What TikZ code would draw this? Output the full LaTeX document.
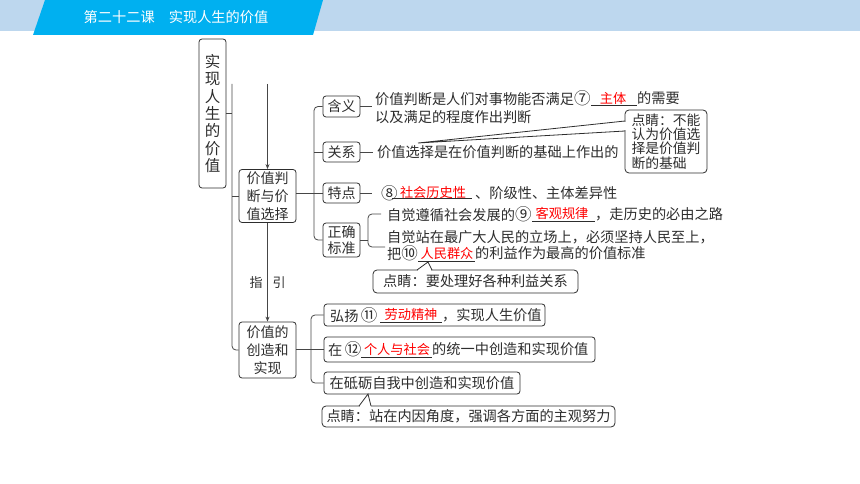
\documentclass[tikz,border=0pt]{standalone}
\usepackage{fontspec}
\setmainfont{Noto Sans CJK SC}
\newcommand{\cnum}[1]{{\fontsize{16.5}{17}\selectfont #1}}
\usetikzlibrary{arrows.meta}
\definecolor{bandlight}{RGB}{189,215,238}
\definecolor{bandcyan}{RGB}{0,176,240}
\definecolor{ink}{RGB}{45,45,45}
\definecolor{lineg}{RGB}{70,70,70}
\definecolor{ansred}{RGB}{255,0,0}
\begin{document}
\begin{tikzpicture}[x=1pt,y=-1pt,
  box/.style={draw=ink, rounded corners=3pt, line width=0.8pt, inner sep=0pt, text=ink, align=center, font=\fontsize{14}{18}\selectfont},
  txt/.style={anchor=west, inner sep=0pt, text=ink, font=\fontsize{14.2}{17}\selectfont},
  ans/.style={inner sep=0pt, text=ansred, font=\fontsize{13.2}{16}\selectfont},
  uline/.style={draw=ink, line width=0.6pt},
  conn/.style={draw=lineg, line width=0.8pt},
  wedge/.style={draw=ink, line width=0.8pt},
  arr/.style={-{Stealth[length=5pt,width=4pt]}},
  lbl/.style={inner sep=0pt, text=ink, font=\fontsize{13}{15}\selectfont},
  notebox/.style={draw=ink, rounded corners=4pt, line width=0.8pt, fill=white, inner sep=0pt, text=ink, font=\fontsize{14.2}{14.5}\selectfont},
]
\useasboundingbox (0,0) rectangle (860,484);
% header
\fill[bandlight] (0,0) rectangle (860,31);
\fill[bandcyan] (45,0) -- (323,0) -- (313,35) -- (33,35) -- cycle;
\node[inner sep=0pt, text=white, font=\fontsize{14.2}{16}\selectfont] (title) at (176,17) {第二十二课　实现人生的价值};

% main box and level-2 boxes
\node[box, minimum width=27pt, minimum height=149pt, font=\fontsize{15.5}{17.3}\selectfont] (mainbox) at (212.5,113.5) {实\\现\\人\\生\\的\\价\\值};
\node[box, minimum width=57pt, minimum height=53pt] (box2) at (267.5,196) {价值判\\断与价\\值选择};
\node[box, minimum width=57pt, minimum height=56pt] (box3) at (267.5,350) {价值的\\创造和\\实现};

\coordinate (ltop) at (232,84);
\coordinate (atop) at (267.5,84);
\draw[conn, rounded corners=4pt] (ltop) |- (box3.west);
\draw[conn] (mainbox.east) -- (mainbox.east -| ltop);
\draw[conn] (box2.west -| ltop) -- (box2.west);
\draw[conn, arr] (atop) -- (box2.north);
\draw[conn, arr] (box2.south) -- (box3.north);
\node[lbl] (zhi) at (256,283) {指};
\node[lbl] (yin) at (279,283) {引};

% level-3 boxes (upper)
\node[box, minimum width=37pt, minimum height=21pt] (hanyi) at (341.5,106.5) {含义};
\node[box, minimum width=37pt, minimum height=20pt] (guanxi) at (341.5,152) {关系};
\node[box, minimum width=37pt, minimum height=20pt] (tedian) at (341.5,193) {特点};
\node[box, minimum width=37pt, minimum height=34pt, font=\fontsize{14}{16}\selectfont] (zhengque) at (341.5,240) {正确\\标准};

\coordinate (brk1) at (314,150);
\draw[conn] (box2.east |- tedian.west) -- (tedian.west);
\draw[conn, rounded corners=4pt] (hanyi.west) -| (brk1) |- (zhengque.west);
\draw[conn] (guanxi.west -| brk1) -- (guanxi.west);

% 含义
\node[txt] (t1a) at (375,98) {价值判断是人们对事物能否满足\cnum{⑦}};
\draw[uline] (591,105) -- (637,105);
\node[ans] (t1b) at (613,98) {主体};
\node[txt] (t1c) at (637,98) {的需要};
\node[txt] (t2) at (375,117) {以及满足的程度作出判断};
\coordinate (h1) at (372,106.5);
\draw[conn] (hanyi.east) -- (h1);

% 关系
\node[txt] (t3) at (377,152) {价值选择是在价值判断的基础上作出的};
\coordinate (h2) at (373,152);
\draw[conn] (guanxi.east) -- (h2);

% 特点
\node[txt] (t4a) at (381,193) {\cnum{⑧}};
\draw[uline] (392,198) -- (472,198);
\node[ans] (t4b) at (433,192) {社会历史性};
\node[txt] (t4c) at (475,193) {、阶级性、主体差异性};
\coordinate (h3) at (372,193);
\draw[conn] (tedian.east) -- (h3);

% 正确标准
\coordinate (brk2) at (368,230);
\coordinate (z1) at (381,214);
\coordinate (z3) at (385,247);
\draw[conn] (zhengque.east) -- (zhengque.east -| brk2);
\draw[conn, rounded corners=4pt] (z1) -| (brk2) |- (z3);
\node[txt] (t5a) at (387,214) {自觉遵循社会发展的\cnum{⑨}};
\draw[uline] (532,221) -- (595,221);
\node[ans] (t5b) at (562,213) {客观规律};
\node[txt] (t5c) at (595,214) {，走历史的必由之路};
\node[txt] (t6) at (387,237) {自觉站在最广大人民的立场上，必须坚持人民至上，};
\node[txt] (t7a) at (387,253) {把\cnum{⑩}};
\draw[uline] (418,261) -- (475,261);
\node[ans] (t7b) at (447,253) {人民群众};
\node[txt] (t7c) at (475,253) {的利益作为最高的价值标准};

% callout 1
\node[notebox, minimum width=82pt, minimum height=63pt, align=left, font=\fontsize{13.8}{14.2}\selectfont] (note1) at (666,141.5) {点睛：不能\\认为价值选\\择是价值判\\断的基础};
\fill[white] (623.5,121.8) rectangle (626.5,130.2);
\draw[wedge] (625,121) -- (418,143) -- (625,131);

% callout 2
\node[notebox, minimum width=205pt, minimum height=23pt] (note2) at (475.5,281.5) {点睛：要处理好各种利益关系};
\fill[white] (417.8,268.5) rectangle (431.2,271.5);
\draw[wedge] (417,270) -- (428,262) -- (432,270);

% lower boxes
\node[box, minimum width=221pt, minimum height=22pt] (boxA) at (434.5,315) {};
\node[box, minimum width=271pt, minimum height=25pt] (boxB) at (459.5,349.5) {};
\node[box, minimum width=196pt, minimum height=22pt, font=\fontsize{14.2}{17}\selectfont] (boxC) at (422,383) {在砥砺自我中创造和实现价值};

\coordinate (brk3) at (311,350);
\draw[conn, rounded corners=4pt] (boxA.west) -| (brk3) |- (boxC.west);
\draw[conn] (box3.east |- boxB.west) -- (boxB.west);

\node[txt] (a1) at (330,315) {弘扬\,\cnum{⑪}};
\draw[uline] (380,322) -- (442,322);
\node[ans] (a2) at (411,314) {劳动精神};
\node[txt] (a3) at (442,315) {，实现人生价值};

\node[txt] (b1) at (328,349.5) {在\,\cnum{⑫}};
\draw[uline] (361,357) -- (432,357);
\node[ans] (b2) at (397,349) {个人与社会};
\node[txt] (b3) at (432,349.5) {的统一中创造和实现价值};

% callout 3
\node[notebox, minimum width=293pt, minimum height=21pt] (note3) at (468.5,416.5) {点睛：站在内因角度，强调各方面的主观努力};
\fill[white] (359.8,404.5) rectangle (370.5,407.5);
\draw[wedge] (359,406) -- (368,394) -- (371,406);
\end{tikzpicture}
\end{document}
